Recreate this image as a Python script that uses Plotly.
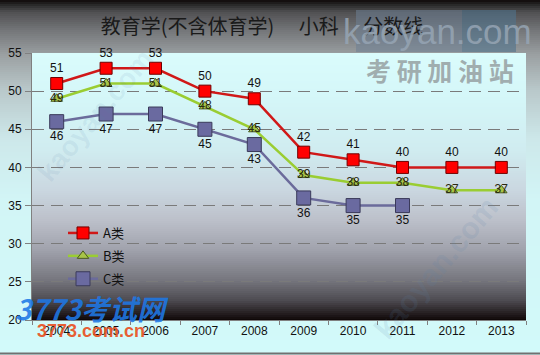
import plotly.graph_objects as go

# ---------------- data ----------------
years = ["2004", "2005", "2006", "2007", "2008", "2009", "2010", "2011", "2012", "2013"]
a_vals = [51, 53, 53, 50, 49, 42, 41, 40, 40, 40]
b_vals = [49, 51, 51, 48, 45, 39, 38, 38, 37, 37]
c_vals = [46, 47, 47, 45, 43, 36, 35, 35]
c_years = years[:len(c_vals)]
series_names = ["A类", "B类", "C类"]
title_text = "教育学(不含体育学)　 小科　 分数线"
y_ticks = [20, 25, 30, 35, 40, 45, 50, 55]

# ---------------- geometry (pixels) ----------------
W, H = 540, 355
L, R, T, B = 32, 526, 53, 320


def px_x(x):
    return (x - L) / (R - L)


def px_y(y):
    return (B - y) / (B - T)


def interp(stops, y):
    for (y0, c0), (y1, c1) in zip(stops, stops[1:]):
        if y0 <= y <= y1:
            t = (y - y0) / (y1 - y0) if y1 > y0 else 0
            return tuple(int(round(c0[i] + (c1[i] - c0[i]) * t)) for i in range(3))
    return stops[-1][1]


outer_stops = [(0, (15, 8, 8)), (4, (35, 35, 35)), (12, (80, 80, 82)), (30, (115, 117, 120)),
               (55, (155, 160, 162)), (90, (185, 200, 202)), (140, (205, 232, 234)),
               (200, (210, 245, 246)), (355, (210, 250, 250))]
plot_stops = [(53, (218, 252, 252)), (100, (212, 246, 248)), (150, (208, 236, 240)),
              (190, (202, 215, 224)), (220, (188, 192, 202)), (250, (160, 162, 172)),
              (280, (118, 118, 126)), (300, (78, 76, 82)), (314, (35, 28, 30)), (320, (15, 8, 8))]

shapes = []
step = 2
y = 0
while y < H:
    c = interp(outer_stops, y + step / 2)
    shapes.append(dict(type="rect", xref="paper", yref="paper", layer="below",
                       x0=px_x(0), x1=px_x(W), y0=px_y(min(y + step + 0.5, H)), y1=px_y(y),
                       fillcolor="rgb(%d,%d,%d)" % c, line=dict(width=0)))
    y += step
y = T
while y < B:
    c = interp(plot_stops, y + step / 2)
    shapes.append(dict(type="rect", xref="paper", yref="paper", layer="below",
                       x0=0, x1=1, y0=px_y(min(y + step + 0.5, B)), y1=px_y(y),
                       fillcolor="rgb(%d,%d,%d)" % c, line=dict(width=0)))
    y += step

# watermark box top-right
shapes.append(dict(type="rect", xref="paper", yref="paper", layer="above",
                   x0=px_x(356), x1=px_x(462), y0=px_y(52), y1=px_y(10),
                   fillcolor="rgba(110,128,148,0.55)", line=dict(width=0)))
shapes.append(dict(type="rect", xref="paper", yref="paper", layer="above",
                   x0=px_x(462), x1=px_x(516), y0=px_y(52), y1=px_y(10),
                   fillcolor="rgba(80,115,140,0.6)", line=dict(width=0)))
# bottom border line
shapes.append(dict(type="line", xref="paper", yref="paper", layer="above",
                   x0=px_x(0), x1=px_x(W), y0=px_y(353.5), y1=px_y(353.5),
                   line=dict(color="#707070", width=2)))

fig = go.Figure()

label_font = dict(family="Liberation Sans, DejaVu Sans, sans-serif", size=12, color="#111111")

fig.add_trace(go.Scatter(
    x=years, y=a_vals, name=series_names[0], mode="lines+markers+text", legendgroup="a",
    line=dict(color="#d01818", width=2.5), cliponaxis=False,
    marker=dict(symbol="square", size=12, color="#ff0000", line=dict(color="#700000", width=1)),
    text=[str(v) for v in a_vals], textposition="top center", textfont=label_font,
))
fig.add_trace(go.Scatter(
    x=years, y=b_vals, name=series_names[1], mode="lines+markers+text", legendgroup="b",
    line=dict(color="#9acd32", width=2.5), cliponaxis=False,
    marker=dict(symbol="triangle-up", size=10, color="#a8c448", line=dict(color="#4a5a20", width=1)),
    text=[str(v) for v in b_vals], textposition="middle center",
    textfont=dict(family="Liberation Sans, DejaVu Sans, sans-serif", size=12, color="#2a2a10"),
))
fig.add_trace(go.Scatter(
    x=c_years, y=c_vals, name=series_names[2], mode="lines+markers+text", legendgroup="c",
    line=dict(color="#6b6b9b", width=2.5), cliponaxis=False,
    marker=dict(symbol="square", size=14, color="#6a6aa0", line=dict(color="#3a3a5a", width=1)),
    text=[str(v) for v in c_vals], textposition="bottom center", textfont=label_font,
))

annotations = [
    dict(text="kaoyan.com", xref="paper", yref="paper", x=px_x(437), y=px_y(31),
         showarrow=False, font=dict(family="Liberation Sans Narrow, Liberation Sans", size=35,
                                    color="rgba(150,165,180,0.85)"),
         xanchor="center", yanchor="middle"),
    dict(text="考 研 加 油 站", xref="paper", yref="paper", x=px_x(440), y=px_y(70),
         showarrow=False, font=dict(family="Noto Sans CJK SC", size=25, color="rgba(150,160,162,0.85)", weight="bold"),
         xanchor="center", yanchor="middle"),
    dict(text="<b><i>3773考试网</i></b>", xref="paper", yref="paper", x=px_x(92), y=px_y(308),
         showarrow=False, font=dict(family="Noto Sans CJK SC", size=28, color="rgba(30,120,230,0.9)"),
         xanchor="center", yanchor="middle"),
    dict(text="<b>3773.com.cn</b>", xref="paper", yref="paper", x=px_x(91), y=px_y(331),
         showarrow=False, font=dict(family="Liberation Sans", size=18, color="rgba(232,85,40,0.95)"),
         xanchor="center", yanchor="middle"),
    dict(text="<b>kaoyan.com</b>", xref="paper", yref="paper", x=px_x(435), y=px_y(268),
         showarrow=False, textangle=-50,
         font=dict(family="Liberation Sans", size=30, color="rgba(90,130,170,0.15)"),
         xanchor="center", yanchor="middle"),
    dict(text="<b>kaoyan.com</b>", xref="paper", yref="paper", x=px_x(95), y=px_y(115),
         showarrow=False, textangle=-50,
         font=dict(family="Liberation Sans", size=28, color="rgba(90,130,170,0.10)"),
         xanchor="center", yanchor="middle"),
]

fig.update_layout(
    width=W, height=H,
    margin=dict(l=L, r=W - R, t=T, b=H - B, pad=0, autoexpand=False),
    paper_bgcolor="rgb(210,245,246)",
    plot_bgcolor="rgba(0,0,0,0)",
    title=dict(text=title_text, x=262 / W, xref="container", xanchor="center",
               y=1 - 27 / H, yref="container", yanchor="middle", automargin=False,
               font=dict(family="Noto Sans CJK SC", size=20, color="#1a1a1a")),
    font=dict(family="Liberation Sans, DejaVu Sans, sans-serif", size=12, color="#111111"),
    showlegend=True,
    legend=dict(x=px_x(63), y=px_y(218), xanchor="left", yanchor="top",
                bgcolor="rgba(0,0,0,0)", borderwidth=0, tracegroupgap=3,
                font=dict(family="Noto Sans CJK SC", size=13, color="#111111"),
                itemwidth=30),
    shapes=shapes,
    annotations=annotations,
)
fig.update_xaxes(type="category", categoryorder="array", categoryarray=years,
                 range=[-0.5, len(years) - 0.5], autorange=False, automargin=False,
                 showline=True, linecolor="#808080", linewidth=1,
                 ticks="outside", tickson="boundaries", ticklen=4, tickcolor="#808080",
                 showgrid=False, zeroline=False,
                 tickfont=dict(family="Liberation Sans, DejaVu Sans, sans-serif", size=12, color="#111111"))
fig.update_yaxes(range=[20, 55], autorange=False, automargin=False, tickvals=y_ticks,
                 showline=True, linecolor="#808080", linewidth=1,
                 ticks="outside", ticklen=6, tickcolor="#808080", ticklabelstandoff=1,
                 showgrid=True, gridcolor="#7a7a7a", gridwidth=1, griddash="12px,7px",
                 zeroline=False,
                 tickfont=dict(family="Liberation Sans, DejaVu Sans, sans-serif", size=12, color="#111111"))

fig.write_html("out.html", config={"displayModeBar": False},
               post_script="document.body.style.margin='0';document.body.style.padding='0';")
